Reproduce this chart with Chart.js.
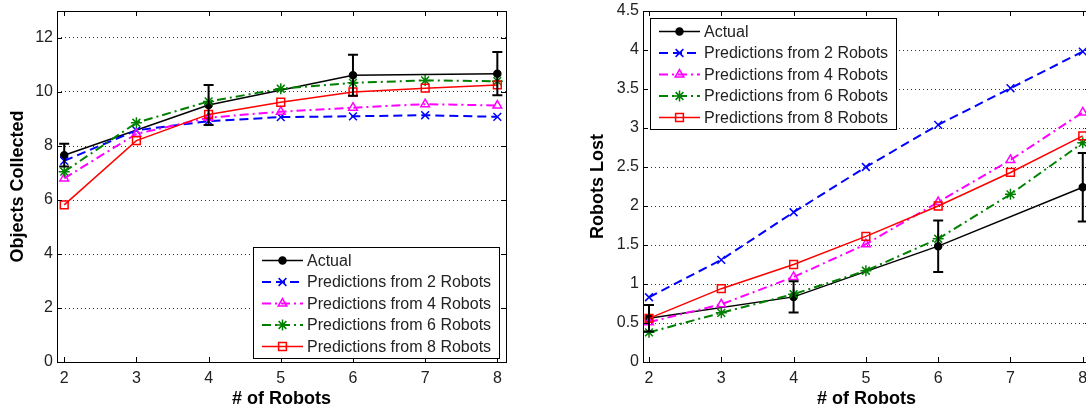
<!DOCTYPE html>
<html>
<head>
<meta charset="utf-8">
<script src="https://cdn.jsdelivr.net/npm/chart.js@4.4.0/dist/chart.umd.min.js"></script>
<style>
  html, body { margin: 0; padding: 0; background: #fff; overflow: hidden; }
  #wrap { position: relative; width: 1086px; height: 412px; overflow: hidden; }
  #leftChart { position: absolute; left: 0; top: 0; }
  #rightChart { position: absolute; left: 580px; top: 0; }
</style>
</head>
<body>
<div id="wrap">
  <canvas id="leftChart" width="525" height="412"></canvas>
  <canvas id="rightChart" width="530" height="412"></canvas>
</div>
<script>
const robots = [2, 3, 4, 5, 6, 7, 8];
const actualRobots = [2, 4, 6, 8];
const seriesNames = ['Actual', 'Predictions from 2 Robots', 'Predictions from 4 Robots',
  'Predictions from 6 Robots', 'Predictions from 8 Robots'];

// objects collected
const objActual = [7.66, 9.52, 10.62, 10.68];
const objActualErr = [0.42, 0.74, 0.76, 0.8];
const objPred2 = [7.45, 8.58, 8.92, 9.07, 9.10, 9.14, 9.08];
const objPred4 = [6.80, 8.45, 9.05, 9.27, 9.42, 9.55, 9.50];
const objPred6 = [7.05, 8.86, 9.65, 10.12, 10.34, 10.43, 10.40];
const objPred8 = [5.82, 8.20, 9.17, 9.62, 10.00, 10.14, 10.26];

// robots lost
const lostActual = [0.56, 0.835, 1.485, 2.24];
const lostActualErr = [0.17, 0.2, 0.33, 0.44];
const lostPred2 = [0.83, 1.31, 1.92, 2.50, 3.04, 3.51, 3.98];
const lostPred4 = [0.51, 0.74, 1.09, 1.51, 2.05, 2.59, 3.20];
const lostPred6 = [0.38, 0.63, 0.87, 1.17, 1.58, 2.15, 2.81];
const lostPred8 = [0.56, 0.94, 1.25, 1.61, 2.00, 2.43, 2.90];

const xTicks = [2, 3, 4, 5, 6, 7, 8];
const objYTicks = [0, 2, 4, 6, 8, 10, 12];
const lostYTicks = [0, 0.5, 1, 1.5, 2, 2.5, 3, 3.5, 4, 4.5];

const FONT = '"Liberation Sans", Arial, sans-serif';

const styles = [
  { color: '#000000', dash: [], width: 1.5, point: 'circle', radius: 3.5, fill: '#000000' },
  { color: '#0000ff', dash: [9, 5], width: 2, point: 'crossRot', radius: 5.5, fill: 'rgba(0,0,0,0)' },
  { color: '#ff00ff', dash: [9, 4, 2, 4], width: 2, point: 'triangle', radius: 5, fill: 'rgba(0,0,0,0)' },
  { color: '#008000', dash: [9, 4, 2, 4], width: 2, point: 'star', radius: 5.5, fill: 'rgba(0,0,0,0)' },
  { color: '#ff0000', dash: [], width: 1.5, point: 'rect', radius: 5.5, fill: 'rgba(0,0,0,0)' }
];

function pts(xs, ys) {
  return xs.map((x, i) => ({ x: x, y: ys[i] }));
}

function makeDatasets(seriesList) {
  return seriesList.map((s, i) => ({
    label: seriesNames[i],
    data: s,
    borderColor: styles[i].color,
    borderWidth: styles[i].width,
    borderDash: styles[i].dash,
    pointStyle: styles[i].point,
    pointRadius: styles[i].radius,
    pointBorderColor: styles[i].color,
    pointBackgroundColor: styles[i].fill,
    pointBorderWidth: 1.5,
    tension: 0,
    fill: false,
    order: 5 - i
  }));
}

function frameAndTicks() {
  return {
    id: 'frameAndTicks',
    afterDatasetsDraw(chart) {
      const { ctx, chartArea: a, scales } = chart;
      ctx.save();
      ctx.strokeStyle = '#000';
      ctx.lineWidth = 1;
      ctx.setLineDash([]);
      ctx.strokeRect(Math.round(a.left) + 0.5, Math.round(a.top) + 0.5,
        Math.round(a.right - a.left), Math.round(a.bottom - a.top));
      ctx.beginPath();
      scales.x.ticks.forEach(t => {
        const px = Math.round(scales.x.getPixelForValue(t.value)) + 0.5;
        ctx.moveTo(px, a.bottom); ctx.lineTo(px, a.bottom - 5);
        ctx.moveTo(px, a.top); ctx.lineTo(px, a.top + 5);
      });
      scales.y.ticks.forEach(t => {
        const py = Math.round(scales.y.getPixelForValue(t.value)) + 0.5;
        ctx.moveTo(a.left, py); ctx.lineTo(a.left + 5, py);
        ctx.moveTo(a.right, py); ctx.lineTo(a.right - 5, py);
      });
      ctx.stroke();
      ctx.restore();
    }
  };
}

function errorBars(xs, ys, errs) {
  return {
    id: 'errorBars',
    afterDatasetsDraw(chart) {
      const { ctx, scales: { x, y } } = chart;
      ctx.save();
      ctx.strokeStyle = '#000';
      ctx.lineWidth = 2;
      ctx.setLineDash([]);
      xs.forEach((xv, i) => {
        const px = x.getPixelForValue(xv);
        const top = y.getPixelForValue(ys[i] + errs[i]);
        const bot = y.getPixelForValue(ys[i] - errs[i]);
        ctx.beginPath();
        ctx.moveTo(px, top); ctx.lineTo(px, bot);
        ctx.moveTo(px - 5, top); ctx.lineTo(px + 5, top);
        ctx.moveTo(px - 5, bot); ctx.lineTo(px + 5, bot);
        ctx.stroke();
      });
      ctx.restore();
    }
  };
}

function insideLegend(corner) {
  return {
    id: 'insideLegend',
    afterDraw(chart) {
      const { ctx, chartArea: a } = chart;
      const w = 246, h = 111;
      const x0 = corner === 'br' ? Math.round(a.right - 7 - w) : Math.round(a.left + 7);
      const y0 = corner === 'br' ? Math.round(a.bottom - 4 - h) : Math.round(a.top + 7);
      ctx.save();
      ctx.fillStyle = '#fff';
      ctx.fillRect(x0, y0, w, h);
      ctx.strokeStyle = '#000';
      ctx.lineWidth = 1;
      ctx.strokeRect(x0 + 0.5, y0 + 0.5, w, h);
      ctx.font = '16px ' + FONT;
      ctx.textBaseline = 'middle';
      chart.data.datasets.forEach((ds, i) => {
        const y = y0 + 13.5 + i * 21.5;
        ctx.strokeStyle = ds.borderColor;
        ctx.lineWidth = ds.borderWidth;
        ctx.setLineDash(ds.borderDash);
        ctx.beginPath();
        ctx.moveTo(x0 + 9, y); ctx.lineTo(x0 + 50, y);
        ctx.stroke();
        ctx.setLineDash([]);
        ctx.fillStyle = ds.pointBackgroundColor;
        ctx.strokeStyle = ds.pointBorderColor;
        ctx.lineWidth = ds.pointBorderWidth;
        Chart.helpers.drawPoint(ctx, {
          pointStyle: ds.pointStyle, radius: ds.pointRadius,
          borderWidth: ds.pointBorderWidth, rotation: 0
        }, x0 + 29.5, y);
        ctx.fillStyle = '#222';
        ctx.fillText(ds.label, x0 + 54, y + 1);
      });
      ctx.restore();
    }
  };
}

function makeOptions(xMin, xMax, yMax, yTicks, yTitle, yAxisWidth, padRight) {
  return {
    responsive: false,
    animation: false,
    layout: { padding: { left: 0, top: 11, right: padRight, bottom: 0 } },
    plugins: { legend: { display: false }, tooltip: { enabled: false } },
    scales: {
      x: {
        type: 'linear',
        min: xMin,
        max: xMax,
        afterBuildTicks: s => { s.ticks = xTicks.map(v => ({ value: v })); },
        afterFit: s => { s.height = 50; },
        grid: { display: false, drawTicks: false },
        border: { display: false },
        ticks: {
          padding: 7, color: '#222', font: { family: FONT, size: 16 },
          callback: v => String(v)
        },
        title: {
          display: true, text: '# of Robots', color: '#000',
          font: { family: FONT, size: 18, weight: 'bold' },
          padding: { top: 0, bottom: 2 }
        }
      },
      y: {
        type: 'linear',
        min: 0,
        max: yMax,
        afterBuildTicks: s => { s.ticks = yTicks.map(v => ({ value: v })); },
        afterFit: s => { s.width = yAxisWidth; s.paddingTop = 0; s.paddingBottom = 0; },
        grid: {
          drawTicks: false,
          lineWidth: 1,
          borderDash: [1, 3],
          color: c => (c.tick && c.tick.value > 0 && c.tick.value < yMax) ? '#333' : 'rgba(0,0,0,0)'
        },
        border: { display: false, dash: [1, 3] },
        ticks: {
          padding: 4, color: '#222', font: { family: FONT, size: 16 },
          callback: v => String(v)
        },
        title: {
          display: true, text: yTitle, color: '#000',
          font: { family: FONT, size: 18, weight: 'bold' },
          padding: { top: 7, bottom: 0 }
        }
      }
    }
  };
}

new Chart(document.getElementById('leftChart'), {
  type: 'line',
  data: {
    datasets: makeDatasets([
      pts(actualRobots, objActual),
      pts(robots, objPred2),
      pts(robots, objPred4),
      pts(robots, objPred6),
      pts(robots, objPred8)
    ])
  },
  options: makeOptions(1.9, 8.12, 13, objYTicks, 'Objects Collected', 57, 19),
  plugins: [frameAndTicks(), errorBars(actualRobots, objActual, objActualErr), insideLegend('br')]
});

new Chart(document.getElementById('rightChart'), {
  type: 'line',
  data: {
    datasets: makeDatasets([
      pts(actualRobots, lostActual),
      pts(robots, lostPred2),
      pts(robots, lostPred4),
      pts(robots, lostPred6),
      pts(robots, lostPred8)
    ])
  },
  options: makeOptions(1.917, 8.1, 4.5, lostYTicks, 'Robots Lost', 63, 20),
  plugins: [frameAndTicks(), errorBars(actualRobots, lostActual, lostActualErr), insideLegend('tl')]
});
</script>
</body>
</html>
